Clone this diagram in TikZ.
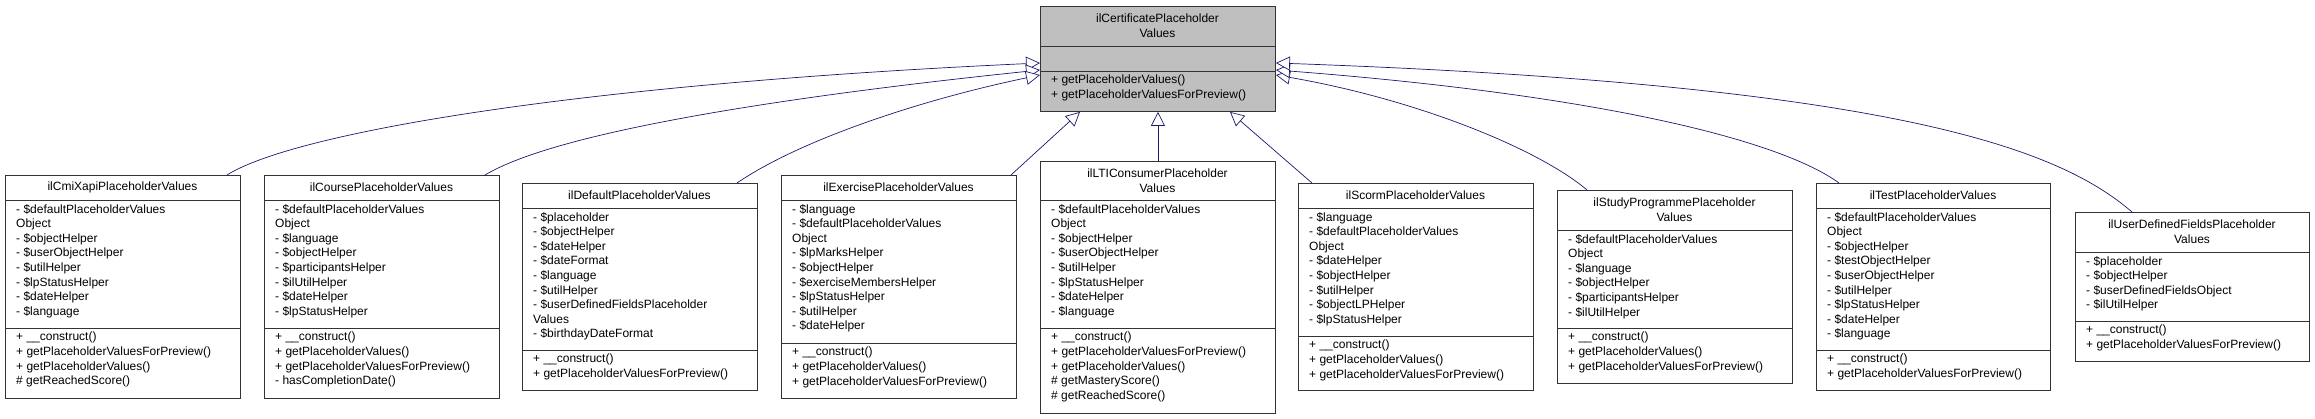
\documentclass[tikz,border=0pt]{standalone}
\usepackage{fontspec}
\setmainfont{Liberation Sans}
\usetikzlibrary{arrows.meta,calc,positioning}
\definecolor{edgeblue}{HTML}{191970}
\definecolor{basegray}{HTML}{BFBFBF}

% one class box: name, x1, y1, x2, y2, title sep, attr sep, fill
\newcommand{\classbox}[8]{%
  \node[box, fill=#8, minimum width={(#4-#2)*1pt}, minimum height={(#5-#3)*1pt}]
    (#1) at (#2,#3) {};
  \draw[boxline] (#2,#6) -- (#4,#6);
  \draw[boxline] (#2,#7) -- (#4,#7);
  \coordinate (#1-t) at ({(#2+#4)/2},{(#3+#6)/2});
  \coordinate (#1-a) at ({#2+11},{#6+4});
  \coordinate (#1-m) at ({#2+11},{#7+4});
}

\begin{document}
\begin{tikzpicture}[x=1pt,y=-1pt,
    box/.style={draw=black!80, line width=0.9pt, anchor=north west, inner sep=0pt},
    boxline/.style={draw=black!80, line width=0.9pt},
    txt/.style={inner sep=0pt, font=\fontsize{12}{14.6}\selectfont},
    title/.style={txt, align=center},
    members/.style={txt, anchor=north west, align=left},
    inherit/.style={draw=edgeblue, line width=0.7pt,
      -{Triangle[open, length=14pt, width=14pt, fill=white]}}]
  \useasboundingbox (0,0) rectangle (2315,419);

  % base class
  \classbox{base}{1040}{6}{1275}{111}{46}{71}{basegray}
  \node[title] at (base-t) {ilCertificatePlaceholder\\Values};
  \node[members] at (base-m) {+ getPlaceholderValues()\\+ getPlaceholderValuesForPreview()};

  % derived classes
  \classbox{cmi}{5}{175}{240}{398}{200}{328}{white}
  \node[title] at (cmi-t) {ilCmiXapiPlaceholderValues};
  \node[members] at (cmi-a) {- \$defaultPlaceholderValues\\Object\\- \$objectHelper\\- \$userObjectHelper\\- \$utilHelper\\- \$lpStatusHelper\\- \$dateHelper\\- \$language};
  \node[members] at (cmi-m) {+ \_\_construct()\\+ getPlaceholderValuesForPreview()\\+ getPlaceholderValues()\\\# getReachedScore()};

  \classbox{course}{264}{175}{499}{398}{200}{328}{white}
  \node[title] at (course-t) {ilCoursePlaceholderValues};
  \node[members] at (course-a) {- \$defaultPlaceholderValues\\Object\\- \$language\\- \$objectHelper\\- \$participantsHelper\\- \$ilUtilHelper\\- \$dateHelper\\- \$lpStatusHelper};
  \node[members] at (course-m) {+ \_\_construct()\\+ getPlaceholderValues()\\+ getPlaceholderValuesForPreview()\\- hasCompletionDate()};

  \classbox{default}{522}{183}{757}{390}{208}{350}{white}
  \node[title] at (default-t) {ilDefaultPlaceholderValues};
  \node[members] at (default-a) {- \$placeholder\\- \$objectHelper\\- \$dateHelper\\- \$dateFormat\\- \$language\\- \$utilHelper\\- \$userDefinedFieldsPlaceholder\\Values\\- \$birthdayDateFormat};
  \node[members] at (default-m) {+ \_\_construct()\\+ getPlaceholderValuesForPreview()};

  \classbox{exercise}{781}{175}{1016}{398}{200}{343}{white}
  \node[title] at (exercise-t) {ilExercisePlaceholderValues};
  \node[members] at (exercise-a) {- \$language\\- \$defaultPlaceholderValues\\Object\\- \$lpMarksHelper\\- \$objectHelper\\- \$exerciseMembersHelper\\- \$lpStatusHelper\\- \$utilHelper\\- \$dateHelper};
  \node[members] at (exercise-m) {+ \_\_construct()\\+ getPlaceholderValues()\\+ getPlaceholderValuesForPreview()};

  \classbox{lti}{1040}{161}{1275}{413}{200}{328}{white}
  \node[title] at (lti-t) {ilLTIConsumerPlaceholder\\Values};
  \node[members] at (lti-a) {- \$defaultPlaceholderValues\\Object\\- \$objectHelper\\- \$userObjectHelper\\- \$utilHelper\\- \$lpStatusHelper\\- \$dateHelper\\- \$language};
  \node[members] at (lti-m) {+ \_\_construct()\\+ getPlaceholderValuesForPreview()\\+ getPlaceholderValues()\\\# getMasteryScore()\\\# getReachedScore()};

  \classbox{scorm}{1298}{183}{1533}{390}{208}{336}{white}
  \node[title] at (scorm-t) {ilScormPlaceholderValues};
  \node[members] at (scorm-a) {- \$language\\- \$defaultPlaceholderValues\\Object\\- \$dateHelper\\- \$objectHelper\\- \$utilHelper\\- \$objectLPHelper\\- \$lpStatusHelper};
  \node[members] at (scorm-m) {+ \_\_construct()\\+ getPlaceholderValues()\\+ getPlaceholderValuesForPreview()};

  \classbox{study}{1557}{190}{1792}{383}{230}{328}{white}
  \node[title] at (study-t) {ilStudyProgrammePlaceholder\\Values};
  \node[members] at (study-a) {- \$defaultPlaceholderValues\\Object\\- \$language\\- \$objectHelper\\- \$participantsHelper\\- \$ilUtilHelper};
  \node[members] at (study-m) {+ \_\_construct()\\+ getPlaceholderValues()\\+ getPlaceholderValuesForPreview()};

  \classbox{test}{1816}{183}{2050}{390}{208}{350}{white}
  \node[title] at (test-t) {ilTestPlaceholderValues};
  \node[members] at (test-a) {- \$defaultPlaceholderValues\\Object\\- \$objectHelper\\- \$testObjectHelper\\- \$userObjectHelper\\- \$utilHelper\\- \$lpStatusHelper\\- \$dateHelper\\- \$language};
  \node[members] at (test-m) {+ \_\_construct()\\+ getPlaceholderValuesForPreview()};

  \classbox{userdef}{2075}{212}{2309}{361}{252}{321}{white}
  \node[title] at (userdef-t) {ilUserDefinedFieldsPlaceholder\\Values};
  \node[members] at (userdef-a) {- \$placeholder\\- \$objectHelper\\- \$userDefinedFieldsObject\\- \$ilUtilHelper};
  \node[members] at (userdef-m) {+ \_\_construct()\\+ getPlaceholderValuesForPreview()};

  % inheritance edges
  \draw[inherit] ($(cmi.north west)+(222,0)$) .. controls (290,135) and (560,85) .. ($(base.north west)+(0,57)$);
  \draw[inherit] ($(course.north west)+(221,0)$) .. controls (560,130) and (800,95) .. ($(base.north west)+(0,64)$);
  \draw[inherit] ($(default.north west)+(215,0)$) .. controls (800,140) and (920,100) .. ($(base.north west)+(0,69)$);
  \draw[inherit] ($(exercise.north west)+(230,0)$) -- ($(base.south west)+(40,0)$);
  \draw[inherit] (lti.north) -- (base.south);
  \draw[inherit] ($(scorm.north west)+(14,0)$) -- ($(base.south west)+(190,0)$);
  \draw[inherit] ($(study.north west)+(30,0)$) .. controls (1540,150) and (1420,100) .. ($(base.north east)+(0,69)$);
  \draw[inherit] ($(test.north west)+(23,0)$) .. controls (1780,140) and (1600,95) .. ($(base.north east)+(0,64)$);
  \draw[inherit] ($(userdef.north west)+(57,0)$) .. controls (2060,150) and (1900,85) .. ($(base.north east)+(0,57)$);
\end{tikzpicture}
\end{document}
